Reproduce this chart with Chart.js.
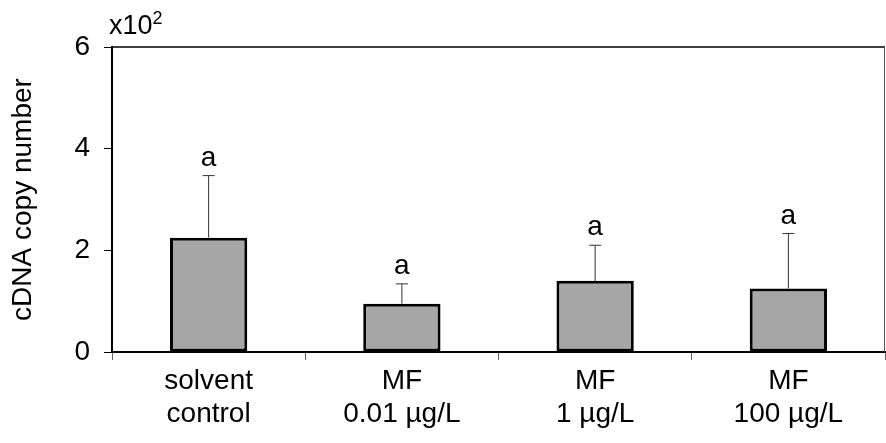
<!DOCTYPE html>
<html>
<head>
<meta charset="utf-8">
<script src="https://cdn.jsdelivr.net/npm/chart.js@4/dist/chart.umd.min.js"></script>
<style>
  html, body { margin: 0; padding: 0; background: #fff; }
  #wrap { width: 886px; height: 443px; }
</style>
</head>
<body>
<div id="wrap"><canvas id="chart"></canvas></div>
<script>
// --- Data (values in units of x10^2) ---
const categories = [["solvent", "control"], ["MF", "0.01 µg/L"], ["MF", "1 µg/L"], ["MF", "100 µg/L"]];
const means = [2.25, 0.95, 1.4, 1.25];
const errors = [1.22, 0.39, 0.7, 1.08];
const letters = ["a", "a", "a", "a"];
const yTicks = [0, 2, 4, 6];

const FONT = "'Liberation Sans', Arial, sans-serif";

// Upper error bars, significance letters, box border and the x10^2 note
const extras = {
  id: "extras",
  afterDatasetsDraw(chart) {
    const ctx = chart.ctx;
    const x = chart.scales.x;
    const y = chart.scales.y;
    const area = chart.chartArea;
    ctx.save();

    means.forEach((m, i) => {
      const cx = x.getPixelForValue(i);
      const yBar = y.getPixelForValue(m);
      const yTop = y.getPixelForValue(m + errors[i]);
      ctx.strokeStyle = "#333";
      ctx.lineWidth = 1;
      ctx.beginPath();
      ctx.moveTo(cx, yBar);
      ctx.lineTo(cx, yTop);
      ctx.moveTo(cx - 6, yTop);
      ctx.lineTo(cx + 6, yTop);
      ctx.stroke();

      ctx.fillStyle = "#000";
      ctx.font = "28px " + FONT;
      ctx.textAlign = "center";
      ctx.textBaseline = "alphabetic";
      ctx.fillText(letters[i], cx, yTop - 10);
    });

    // top and right edge of the box
    ctx.strokeStyle = "#000";
    ctx.lineWidth = 1.5;
    ctx.beginPath();
    ctx.moveTo(area.left, area.top);
    ctx.lineTo(area.right, area.top);
    ctx.stroke();
    ctx.strokeStyle = "#555";
    ctx.lineWidth = 1;
    ctx.beginPath();
    ctx.moveTo(area.right - 0.5, area.top);
    ctx.lineTo(area.right - 0.5, area.bottom);
    ctx.stroke();

    // x10^2 multiplier
    ctx.fillStyle = "#000";
    ctx.textAlign = "left";
    ctx.textBaseline = "alphabetic";
    ctx.font = "27px " + FONT;
    ctx.fillText("x10", 109, 34);
    const w = ctx.measureText("x10").width;
    ctx.font = "18px " + FONT;
    ctx.fillText("2", 109 + w, 24);
    ctx.restore();
  }
};

new Chart(document.getElementById("chart"), {
  type: "bar",
  data: {
    labels: categories,
    datasets: [{
      data: means,
      backgroundColor: "#a6a6a6",
      borderColor: "#000",
      borderWidth: 3,
      borderSkipped: false,
      categoryPercentage: 1,
      barPercentage: 0.4
    }]
  },
  options: {
    responsive: true,
    maintainAspectRatio: false,
    animation: false,
    layout: { padding: { top: 47, right: 1, left: 0, bottom: 0 } },
    plugins: {
      legend: { display: false },
      tooltip: { enabled: false }
    },
    scales: {
      x: {
        grid: { drawOnChartArea: false, drawTicks: true, tickLength: 8, color: "#666", offset: true },
        border: { color: "#000", width: 2 },
        ticks: { color: "#000", font: { family: FONT, size: 28, lineHeight: 1.18 }, padding: 5, maxRotation: 0 },
        afterFit(scale) { scale.height = 91; }
      },
      y: {
        min: 0,
        max: 6,
        afterBuildTicks(scale) { scale.ticks = yTicks.map(v => ({ value: v })); },
        grid: { drawOnChartArea: false, drawTicks: true, tickLength: 8, color: "#000" },
        border: { color: "#000", width: 2 },
        ticks: { color: "#000", font: { family: FONT, size: 28 }, padding: 14 },
        title: {
          display: true,
          text: "cDNA copy number",
          color: "#000",
          font: { family: FONT, size: 28 },
          padding: { top: 6, bottom: 0 }
        },
        afterFit(scale) { scale.width = 112; }
      }
    }
  },
  plugins: [extras]
});
</script>
</body>
</html>
